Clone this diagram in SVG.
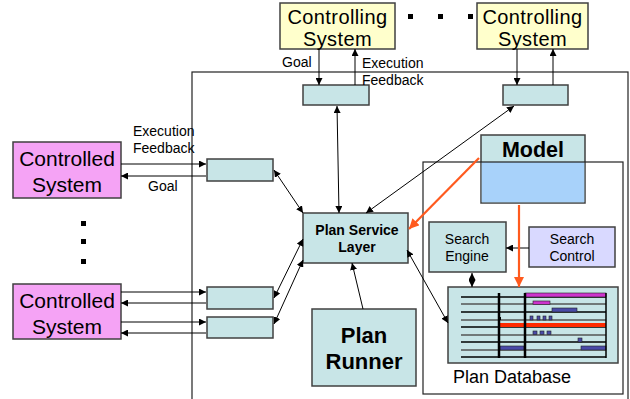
<svg xmlns="http://www.w3.org/2000/svg" width="630" height="399" viewBox="0 0 630 399">
  <defs>
    <marker id="ah" viewBox="0 0 10 10" refX="10" refY="5" markerWidth="7" markerHeight="7" markerUnits="userSpaceOnUse" orient="auto-start-reverse">
      <path d="M0,0 L10,5 L0,10 z" fill="#000"/>
    </marker>
    <marker id="ahOrange" viewBox="0 0 10 10" refX="10" refY="5" markerWidth="10" markerHeight="10" markerUnits="userSpaceOnUse" orient="auto">
      <path d="M0,0 L10,5 L0,10 z" fill="#FF5A1E"/>
    </marker>
  </defs>
  <style>
    .box { fill: #C8E5E7; stroke: #404040; stroke-width: 1.5; }
    .ctrlr { fill: #FFFFCC; stroke: #404040; stroke-width: 1.5; }
    .ctrld { fill: #F5A3F5; stroke: #404040; stroke-width: 1.5; }
    .frame { fill: none; stroke: #222; stroke-width: 1.2; }
    .lbl { font-family: "Liberation Sans", Arial, sans-serif; fill: #000; }
    .big { font-size: 21px; text-anchor: middle; }
    .head { font-size: 20px; letter-spacing: 0.4px; text-anchor: middle; }
    .small { font-size: 14px; }
    .mid { font-size: 14px; text-anchor: middle; }
    .bold { font-weight: bold; }
    .conn line { stroke: #000; stroke-width: 1; }
    .one { marker-end: url(#ah); }
    .two { marker-start: url(#ah); marker-end: url(#ah); }
    .orange { stroke: #FF5A1E !important; stroke-width: 2.2 !important; marker-end: url(#ahOrange); }
    .dot { fill: #000; }
  </style>

  <!-- outer agent frame -->
  <rect class="frame" x="192" y="72" width="436" height="340"/>

  <!-- controlling systems -->
  <g id="controlling1">
    <rect class="ctrlr" x="280" y="3" width="115" height="46"/>
    <text class="lbl head" x="337.5" y="24">Controlling</text>
    <text class="lbl head" x="337.5" y="46">System</text>
  </g>
  <g id="controlling2">
    <rect class="ctrlr" x="477" y="3" width="111" height="46"/>
    <text class="lbl head" x="532.5" y="24">Controlling</text>
    <text class="lbl head" x="532.5" y="46">System</text>
  </g>
  <g id="dots-top">
    <rect class="dot" x="408" y="14" width="5" height="5"/>
    <rect class="dot" x="438" y="14" width="5" height="5"/>
    <rect class="dot" x="468" y="14" width="5" height="5"/>
  </g>

  <!-- controlled systems -->
  <g id="controlled1">
    <rect class="ctrld" x="13" y="142" width="108" height="56"/>
    <text class="lbl big" x="67" y="166" font-size="21.5">Controlled</text>
    <text class="lbl big" x="67" y="192" font-size="21.5">System</text>
  </g>
  <g id="dots-left">
    <rect class="dot" x="81" y="221" width="5" height="5"/>
    <rect class="dot" x="81" y="239" width="5" height="5"/>
    <rect class="dot" x="81" y="259" width="5" height="5"/>
  </g>
  <g id="controlled2">
    <rect class="ctrld" x="13" y="284" width="108" height="55"/>
    <text class="lbl big" x="67" y="308" font-size="21.5">Controlled</text>
    <text class="lbl big" x="67" y="334" font-size="21.5">System</text>
  </g>

  <!-- interface adapters -->
  <g id="adapter-top1"><rect class="box" x="303" y="85" width="66" height="20"/></g>
  <g id="adapter-top2"><rect class="box" x="503" y="85" width="65" height="20"/></g>
  <g id="adapter-left1"><rect class="box" x="207" y="159" width="66" height="22"/></g>
  <g id="adapter-left2"><rect class="box" x="207" y="287" width="66" height="22"/></g>
  <g id="adapter-left3"><rect class="box" x="207" y="317" width="66" height="21"/></g>

  <!-- model -->
  <g id="model">
    <rect class="box" x="481" y="135" width="104" height="68"/>
    <rect x="481.75" y="162" width="102.5" height="40.25" fill="#A8D2FA"/>
    <text class="lbl bold" x="533" y="157" font-size="21.5" text-anchor="middle">Model</text>
  </g>

  <!-- planner frame, drawn over the model -->
  <rect class="frame" x="423" y="162" width="200" height="232"/>

  <g id="plan-service-layer">
    <rect class="box" x="303" y="213" width="105" height="50"/>
    <text class="lbl bold" x="357" y="235" font-size="14" text-anchor="middle">Plan Service</text>
    <text class="lbl bold" x="357" y="252" font-size="14" text-anchor="middle">Layer</text>
  </g>

  <g id="plan-runner">
    <rect class="box" x="312" y="309" width="104" height="77"/>
    <text class="lbl bold" x="364" y="343" font-size="22" text-anchor="middle">Plan</text>
    <text class="lbl bold" x="364" y="369" font-size="22" text-anchor="middle">Runner</text>
  </g>

  <g id="search-engine">
    <rect class="box" x="429" y="222" width="77" height="50"/>
    <text class="lbl mid" x="467" y="244">Search</text>
    <text class="lbl mid" x="467" y="261">Engine</text>
  </g>

  <g id="search-control">
    <rect x="529" y="227" width="86" height="40" fill="#D9D9FF" stroke="#404040" stroke-width="1.5"/>
    <text class="lbl mid" x="572" y="244">Search</text>
    <text class="lbl mid" x="572" y="261">Control</text>
  </g>

  <g id="plan-database">
    <rect class="box" x="448" y="287" width="170" height="76"/>
    <g stroke-width="1.6">
      <line x1="461" y1="297" x2="606" y2="297" stroke="#000"/>
      <line x1="461" y1="304" x2="606" y2="304" stroke="#555"/>
      <line x1="461" y1="312" x2="606" y2="312" stroke="#000"/>
      <line x1="461" y1="320" x2="606" y2="320" stroke="#555"/>
      <line x1="461" y1="327" x2="606" y2="327" stroke="#000"/>
      <line x1="461" y1="335" x2="606" y2="335" stroke="#555"/>
      <line x1="461" y1="342" x2="606" y2="342" stroke="#000"/>
      <line x1="461" y1="350" x2="606" y2="350" stroke="#555"/>
      <line x1="461" y1="357" x2="606" y2="357" stroke="#000"/>
    </g>
    <rect x="525" y="293" width="81" height="4" fill="#CC33CC" stroke="#222" stroke-width="0.6"/>
    <rect x="533" y="301" width="17" height="3.5" fill="#CC33CC" stroke="#222" stroke-width="0.6"/>
    <rect x="552" y="308" width="25" height="4" fill="#4A4AA8" stroke="#222" stroke-width="0.6"/>
    <g fill="#4A4AA8" stroke="#222" stroke-width="0.6">
      <rect x="530" y="316" width="3" height="4"/>
      <rect x="537" y="316" width="3" height="4"/>
      <rect x="543" y="316" width="3" height="4"/>
      <rect x="549" y="316" width="3" height="4"/>
      <rect x="533" y="331" width="4" height="3.5"/>
      <rect x="540" y="331" width="4" height="3.5"/>
      <rect x="547" y="331" width="4" height="3.5"/>
      <rect x="578" y="338" width="4" height="4"/>
      <rect x="500" y="346" width="24" height="4"/>
      <rect x="581" y="346" width="25" height="4"/>
    </g>
    <rect x="499" y="317" width="2" height="3" fill="#000"/>
    <rect x="500" y="323" width="106" height="4" fill="#FF2A00"/>
    <line x1="499" y1="293" x2="499" y2="358" stroke="#000" stroke-width="2.5"/>
    <line x1="525" y1="293" x2="525" y2="358" stroke="#000" stroke-width="2.5"/>
    <line x1="606" y1="293" x2="606" y2="358" stroke="#000" stroke-width="1.5"/>
    <text class="lbl" x="453" y="383" font-size="18">Plan Database</text>
  </g>

  <!-- connectors -->
  <g id="connectors" class="conn">
    <line class="one" x1="319" y1="49" x2="319" y2="85"/>
    <line class="one" x1="355" y1="85" x2="355" y2="49"/>
    <line class="one" x1="517" y1="49" x2="517" y2="85"/>
    <line class="one" x1="553" y1="85" x2="553" y2="49"/>
    <line class="two" x1="337" y1="106" x2="339" y2="213"/>
    <line class="two" x1="514" y1="106" x2="366" y2="213"/>
    <line class="two" x1="274" y1="170" x2="303" y2="213"/>
    <line class="two" x1="274" y1="298" x2="303" y2="239"/>
    <line class="two" x1="274" y1="324" x2="303" y2="260"/>
    <line class="one" x1="121" y1="164" x2="206" y2="164"/>
    <line class="one" x1="206" y1="176" x2="121" y2="176"/>
    <line class="one" x1="121" y1="292" x2="206" y2="292"/>
    <line class="one" x1="206" y1="303" x2="121" y2="303"/>
    <line class="one" x1="121" y1="322" x2="206" y2="322"/>
    <line class="one" x1="206" y1="333" x2="121" y2="333"/>
    <line class="one" x1="363" y1="309" x2="352" y2="263"/>
    <line class="two" x1="407" y1="250" x2="448" y2="323"/>
    <line class="one" x1="529" y1="248" x2="506" y2="248"/>
    <line class="two" x1="472" y1="273" x2="472" y2="287"/>
    <line class="orange" x1="479" y1="158" x2="409" y2="229"/>
    <line class="orange" x1="519" y1="205" x2="519" y2="287"/>
  </g>

  <!-- connector labels -->
  <g id="labels">
    <text class="lbl small" x="282" y="67">Goal</text>
    <text class="lbl small" x="362" y="68">Execution</text>
    <text class="lbl small" x="362" y="85">Feedback</text>
    <text class="lbl small" x="133" y="136">Execution</text>
    <text class="lbl small" x="133" y="153">Feedback</text>
    <text class="lbl small" x="148" y="191">Goal</text>
  </g>
</svg>
